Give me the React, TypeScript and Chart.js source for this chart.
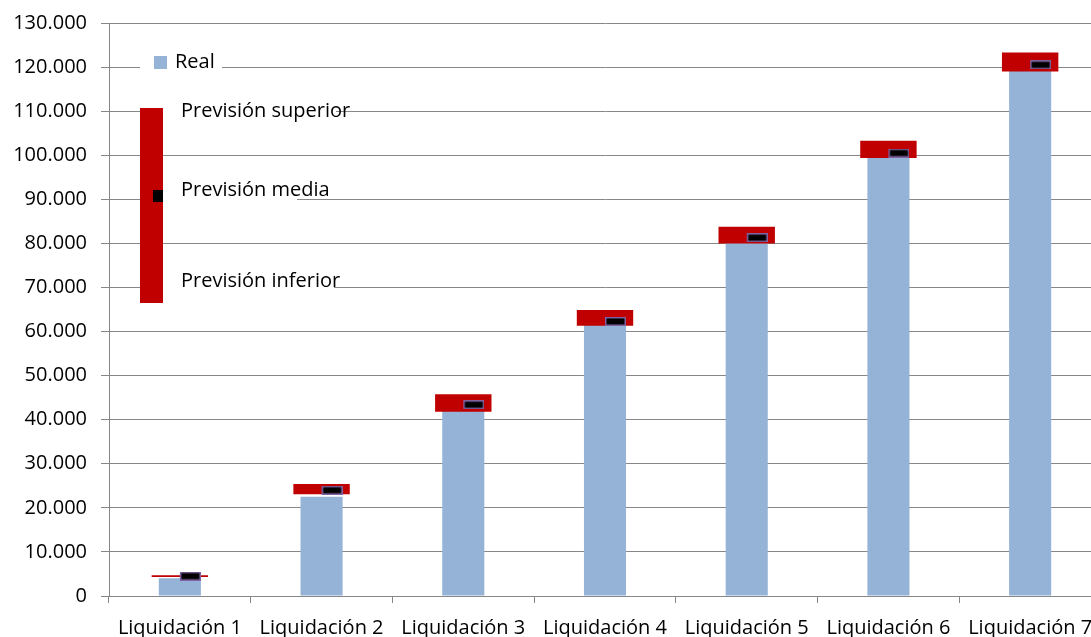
import React, { useEffect, useRef } from 'react';
import { Chart, registerables } from 'chart.js';

Chart.register(...registerables);

const categories = [
  'Liquidación 1',
  'Liquidación 2',
  'Liquidación 3',
  'Liquidación 4',
  'Liquidación 5',
  'Liquidación 6',
  'Liquidación 7',
];
const realValues = [4000, 22500, 42500, 62000, 80500, 100000, 119500];
const previsionInferior = [4300, 23100, 41800, 61300, 80000, 99400, 119000];
const previsionSuperior = [4700, 25400, 45800, 64900, 83800, 103300, 123300];
const previsionMedia = [4500, 24000, 43400, 62300, 81300, 100500, 120500];

const yMin = 0;
const yMax = 130000;
const yStep = 10000;

const legendLabels = ['Real', 'Previsión superior', 'Previsión media', 'Previsión inferior'];

const BLUE = '#95B3D7';
const RED = '#C00000';
const GRID = '#878787';
const FONT = '"Open Sans", "Noto Sans", sans-serif';
const FONT_SIZE = 20;

const formatThousands = (v: number) =>
  String(Math.round(v)).replace(/\B(?=(\d{3})+(?!\d))/g, '.');

function makeMarker(): HTMLCanvasElement {
  const c = document.createElement('canvas');
  c.width = 42;
  c.height = 9;
  const g = c.getContext('2d')!;
  g.fillStyle = '#000';
  g.fillRect(22, 1, 19, 7);
  g.strokeStyle = '#7F63A1';
  g.lineWidth = 1.5;
  g.strokeRect(21.75, 0.75, 19.5, 7.5);
  return c;
}

const legendPlugin = {
  id: 'excelLegend',
  afterDatasetsDraw(chart: any) {
    const ctx = chart.ctx as CanvasRenderingContext2D;
    ctx.save();
    ctx.fillStyle = '#fff';
    ctx.fillRect(140, 49, 82, 27);
    ctx.fillRect(163, 97, 173, 29);
    ctx.fillRect(163, 180, 134, 28);
    ctx.fillRect(163, 272, 171, 27);
    ctx.fillStyle = RED;
    ctx.fillRect(140, 108, 23, 195);
    ctx.fillStyle = '#000';
    ctx.fillRect(153, 190, 10, 12);
    ctx.fillStyle = BLUE;
    ctx.fillRect(154, 56, 13, 13);
    ctx.font = `${FONT_SIZE}px ${FONT}`;
    ctx.fillStyle = '#000';
    ctx.textBaseline = 'alphabetic';
    ctx.textAlign = 'left';
    ctx.fillText(legendLabels[0], 175, 68);
    ctx.fillText(legendLabels[1], 181, 117);
    ctx.fillText(legendLabels[2], 181, 196);
    ctx.fillText(legendLabels[3], 181, 287);
    ctx.restore();
  },
};

export default function App() {
  const canvasRef = useRef<HTMLCanvasElement | null>(null);

  useEffect(() => {
    const canvas = canvasRef.current;
    if (!canvas) return;
    const marker = makeMarker();
    const chart = new Chart(canvas, {
      type: 'bar',
      data: {
        labels: categories,
        datasets: [
          {
            type: 'line',
            label: 'Previsión media',
            data: previsionMedia,
            showLine: false,
            pointStyle: marker as any,
            pointRadius: 4,
            order: 0,
          } as any,
          {
            type: 'bar',
            label: 'Previsión',
            data: previsionInferior.map((v, i) => [v, previsionSuperior[i]]),
            backgroundColor: RED,
            borderWidth: 0,
            grouped: false,
            barPercentage: 0.398,
            categoryPercentage: 1,
            order: 1,
          } as any,
          {
            type: 'bar',
            label: 'Real',
            data: realValues,
            backgroundColor: BLUE,
            borderWidth: 0,
            grouped: false,
            barPercentage: 0.297,
            categoryPercentage: 1,
            order: 2,
          } as any,
        ],
      },
      options: {
        responsive: false,
        maintainAspectRatio: false,
        devicePixelRatio: 1,
        animation: false,
        layout: { padding: { top: 23, left: 0, right: 0, bottom: 0 } },
        plugins: {
          legend: { display: false },
          tooltip: { enabled: false },
        },
        scales: {
          x: {
            type: 'category',
            offset: true,
            afterFit: (s: any) => {
              s.height = 41;
              s.paddingLeft = 0;
              s.paddingRight = 0;
            },
            grid: {
              display: true,
              offset: true,
              drawOnChartArea: false,
              drawTicks: true,
              tickLength: 7,
              color: GRID,
            },
            border: { display: true, color: GRID, width: 1 },
            ticks: {
              color: '#000',
              padding: 13,
              maxRotation: 0,
              autoSkip: false,
              font: { family: FONT, size: FONT_SIZE },
            },
          },
          y: {
            type: 'linear',
            min: yMin,
            max: yMax,
            afterFit: (s: any) => {
              s.width = 109;
              s.paddingTop = 0;
              s.paddingBottom = 0;
            },
            grid: {
              color: GRID,
              tickLength: 8,
              drawTicks: true,
            },
            border: { display: true, color: GRID, width: 1 },
            ticks: {
              stepSize: yStep,
              color: '#000',
              padding: 14,
              font: { family: FONT, size: FONT_SIZE },
              callback: (v: any) => formatThousands(Number(v)),
            },
          },
        },
      },
      plugins: [legendPlugin],
    });
    return () => chart.destroy();
  }, []);

  return (
    <div
      style={{
        position: 'absolute',
        left: 0,
        top: 0,
        width: 1091,
        height: 637,
        overflow: 'hidden',
        background: '#fff',
      }}
    >
      <canvas
        ref={canvasRef}
        width={1106}
        height={637}
        style={{ display: 'block', width: 1106, height: 637 }}
      />
    </div>
  );
}
